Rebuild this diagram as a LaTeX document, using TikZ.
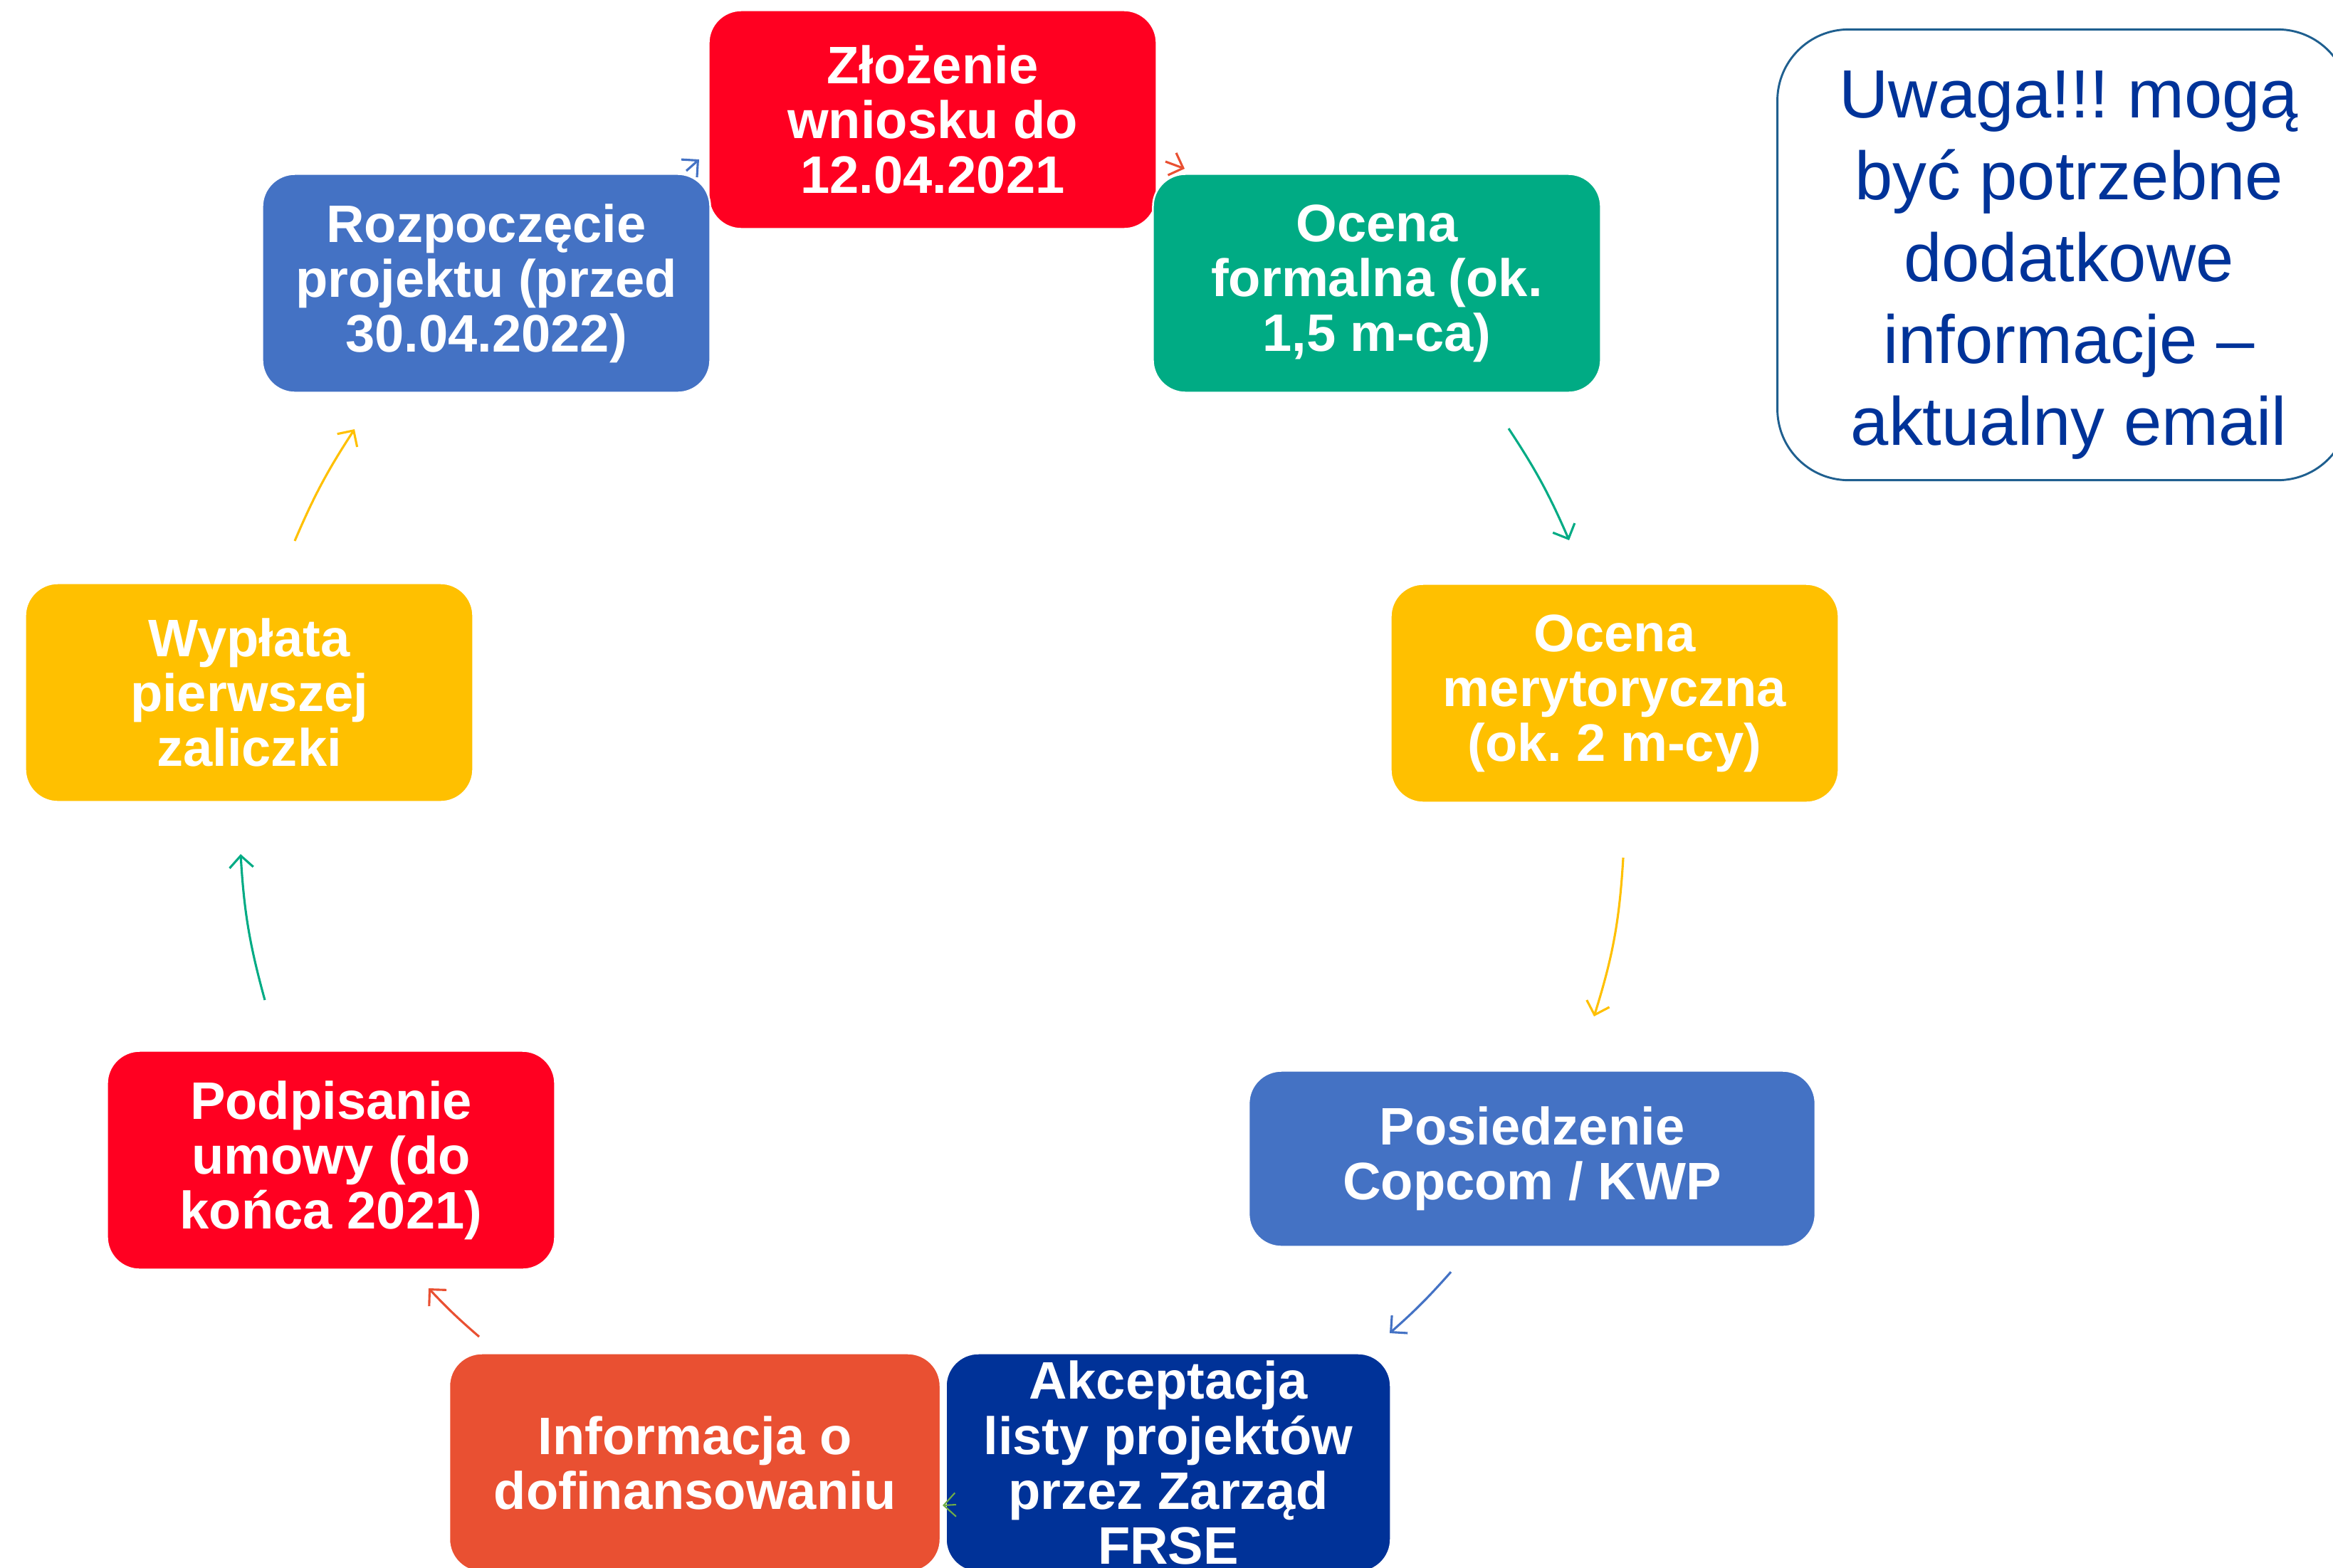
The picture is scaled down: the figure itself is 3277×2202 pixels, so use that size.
\documentclass[tikz,border=0pt]{standalone}
\usepackage{fontspec}
\setmainfont{Liberation Sans}
\usetikzlibrary{arrows.meta}
\frenchspacing
\definecolor{cRed}{HTML}{FF0021}
\definecolor{cGreen}{HTML}{00AB84}
\definecolor{cYellow}{HTML}{FFC000}
\definecolor{cBlue}{HTML}{4472C4}
\definecolor{cNavy}{HTML}{003298}
\definecolor{cOrange}{HTML}{E95032}
\definecolor{cLime}{HTML}{70AD47}
\definecolor{cNoteText}{HTML}{003399}
\definecolor{cNoteLine}{HTML}{1F5F8F}
\begin{document}
\begin{tikzpicture}[x=0.24pt,y=-0.24pt,
  stepbox/.style={rounded corners=11pt, draw=white, line width=0.6pt, text=white,
    font=\fontsize{17.8}{18.5}\selectfont\bfseries, align=center, inner sep=0pt,
    minimum width=151pt, minimum height=73.7pt},
  arr/.style={line width=0.75pt, -{Straight Barb[length=4pt,width=8pt]}},
  notebox/.style={rounded corners=24pt, draw=cNoteLine, line width=0.7pt, fill=white,
    minimum width=192.7pt, minimum height=152pt, inner sep=0pt}
]
\useasboundingbox (0,0) rectangle (3277,2202);
\clip (0,0) rectangle (3277,2202);

% boxes
\node[stepbox, fill=cRed] (b1) at (1310,168) {Złożenie\\wniosku do\\12.04.2021};
\node[stepbox, fill=cGreen] (b2) at (1934,398) {Ocena\\formalna (ok.\\1,5 m-ca)};
\node[stepbox, fill=cYellow] (b3) at (2268,974) {Ocena\\merytoryczna\\(ok. 2 m-cy)};
\node[stepbox, fill=cBlue, minimum width=191pt, minimum height=59.3pt] (b4) at (2152,1628) {Posiedzenie\\Copcom / KWP};
\node[stepbox, fill=cNavy, minimum width=150pt] (b5) at (1641,2055) {Akceptacja\\listy projektów\\przez Zarząd\\FRSE};
\node[stepbox, fill=cOrange, minimum width=165.6pt] (b6) at (976,2055) {Informacja o\\dofinansowaniu};
\node[stepbox, fill=cRed] (b7) at (465,1630) {Podpisanie\\umowy (do\\końca 2021)};
\node[stepbox, fill=cYellow] (b8) at (350,973) {Wypłata\\pierwszej\\zaliczki};
\node[stepbox, fill=cBlue] (b9) at (683,398) {Rozpoczęcie\\projektu (przed\\30.04.2022)};

% note
\node[notebox] (note) at (2898,358) {};
\node[text=cNoteText, font=\fontsize{23}{27.6}\selectfont, align=center, inner sep=0pt] (notetext) at (2906,372)
  {Uwaga!!! mogą\\być potrzebne\\dodatkowe\\informacje –\\aktualny email};

% arrow end points
\coordinate (a1s) at (1637,227); \coordinate (a1e) at (1664,237);
\coordinate (a2s) at (2119,602); \coordinate (a2e) at (2204,759);
\coordinate (a3s) at (2280,1205); \coordinate (a3e) at (2239,1428);
\coordinate (a4s) at (2038,1787); \coordinate (a4e) at (1952,1873);
\coordinate (a5s) at (1343,2114); \coordinate (a5e) at (1324,2115);
\coordinate (a6s) at (673,1878); \coordinate (a6e) at (602,1810);
\coordinate (a7s) at (372,1405); \coordinate (a7e) at (338,1200);
\coordinate (a8s) at (414,760); \coordinate (a8e) at (498,603);
\coordinate (a9s) at (964,240); \coordinate (a9e) at (982,224);

\draw[arr, cOrange] (a1s) -- (a1e);
\draw[arr, cGreen] (a2s) to[bend left=5] (a2e);
\draw[arr, cYellow] (a3s) to[bend left=7] (a3e);
\draw[arr, cBlue] (a4s) to[bend left=3.5] (a4e);
\draw[arr, cLime, line width=0.5pt] (a5s) -- (a5e);
\draw[arr, cOrange] (a6s) to[bend left=3] (a6e);
\draw[arr, cGreen] (a7s) to[bend left=6] (a7e);
\draw[arr, cYellow] (a8s) to[bend left=5] (a8e);
\draw[arr, cBlue] (a9s) -- (a9e);
\end{tikzpicture}
\end{document}
